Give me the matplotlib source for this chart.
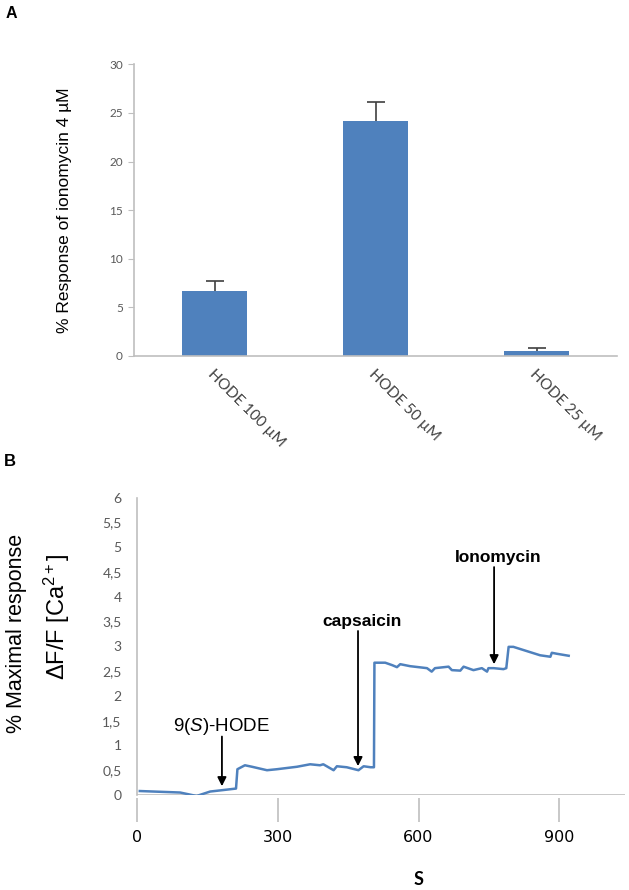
import matplotlib
matplotlib.use("Agg")
import matplotlib.pyplot as plt
import numpy as np

plt.rcParams['mathtext.fontset'] = 'custom'
plt.rcParams['mathtext.rm'] = 'Liberation Sans'
plt.rcParams['mathtext.it'] = 'Liberation Sans:italic'
plt.rcParams['mathtext.bf'] = 'Liberation Sans:bold'

# panel A data
conditions = ["HODE 100 µM", "HODE 50 µM", "HODE 25 µM"]
response = [6.7, 24.2, 0.5]
response_err = [1.05, 1.9, 0.35]

# panel B trace (s, dF/F)
time_s = [6, 92, 127, 156, 184, 211, 214, 230, 245, 277, 298, 341, 369, 390,
          397, 419, 426, 447, 472, 483, 498, 505, 506, 529, 544, 554, 561,
          582, 618, 628, 635, 664, 671, 689, 696, 717, 735, 746, 749, 760,
          781, 787, 792, 802, 859, 881, 884, 895, 920]
dff = [0.08, 0.05, -0.02, 0.07, 0.10, 0.13, 0.52, 0.60, 0.57, 0.50, 0.52,
       0.57, 0.62, 0.60, 0.62, 0.50, 0.58, 0.56, 0.50, 0.58, 0.56, 0.56,
       2.67, 2.67, 2.62, 2.58, 2.64, 2.60, 2.56, 2.49, 2.56, 2.59, 2.52,
       2.51, 2.59, 2.52, 2.56, 2.49, 2.56, 2.56, 2.54, 2.56, 2.99, 2.99,
       2.82, 2.79, 2.87, 2.85, 2.81]

# stimulus additions
event_labels = [r"9($\mathit{S}$)-HODE", "capsaicin", "Ionomycin"]
event_times = [181, 471, 761]
event_text_y = [1.38, 3.51, 4.80]
event_bold = [False, True, True]

BLUE = "#4F81BD"
GRID = "#BFBFBF"
TICKC = "#595959"

fig = plt.figure(figsize=(6.29, 8.9), dpi=100)

# ---- A ----
ax1 = fig.add_axes([134/629, 1-356/890, (617-134)/629, (356-64.3)/890])
x = np.arange(len(conditions))
ax1.bar(x, response, width=0.4, color=BLUE, zorder=2)
eb = ax1.errorbar(x, response, yerr=[np.zeros(len(x)), response_err], fmt='none',
                  ecolor="#404040", elinewidth=1.2, capsize=6.5, capthick=1.2,
                  zorder=3)
# only the upper cap, like the original
for cap in eb[1]:
    if np.allclose(cap.get_ydata(), response):
        cap.set_visible(False)
ax1.set_xlim(-0.5, 2.5)
ax1.set_ylim(0, 30)
ax1.set_yticks(range(0, 31, 5))
ax1.set_xticks(x)
ax1.set_xticklabels(conditions, rotation=-45, ha='left', va='top',
                    rotation_mode='anchor', family='Lato', fontsize=11,
                    color="#404040")
ax1.tick_params(axis='x', length=0, pad=8)
ax1.tick_params(axis='y', length=4, color=GRID, labelcolor=TICKC, pad=4,
                labelsize=8.5)
for lab in ax1.get_yticklabels():
    lab.set_family('Lato')
for s in ['top', 'right']:
    ax1.spines[s].set_visible(False)
for s in ['left', 'bottom']:
    ax1.spines[s].set_color(GRID)
    ax1.spines[s].set_linewidth(1.2)

fig.text(64/629, 1-210/890, "% Response of ionomycin 4 µM", rotation=90,
         ha='center', va='center', family='Liberation Sans', fontsize=12.5)
fig.text(6/629, 1-13/890, "A", ha='left', va='center', family='Liberation Sans',
         fontsize=11.5, fontweight='bold')

# ---- B ----
ax2 = fig.add_axes([137/629, 1-795/890, (625-137)/629, (795-497.7)/890])
ax2.plot(time_s, dff, color=BLUE, lw=1.8, zorder=3)
ax2.axhline(0, color=GRID, lw=1.2, zorder=1)
ax2.set_xlim(0, 1040)
ax2.set_ylim(0, 6)
yt = np.arange(0, 6.01, 0.5)
ax2.set_yticks(yt)
ax2.set_yticklabels([("%g" % v).replace('.', ',') for v in yt], family='Lato')
ax2.tick_params(axis='y', length=0, pad=11, labelcolor=TICKC, labelsize=10)
ax2.set_xticks([0, 300, 600, 900])
ax2.tick_params(axis='x', length=17, width=1.2, color=GRID, pad=6,
                labelsize=11.5)
for lab in ax2.get_xticklabels():
    lab.set_family('Lato')
    lab.set_fontweight('bold')
ax2.spines['bottom'].set_position(('outward', 2))
for s in ['top', 'right', 'bottom']:
    ax2.spines[s].set_visible(False)
ax2.spines['left'].set_color(GRID)
ax2.spines['left'].set_linewidth(1.2)

for lab, t, ty, bold in zip(event_labels, event_times, event_text_y, event_bold):
    tip = np.interp(t, time_s, dff) + 0.08
    ax2.annotate('', xy=(t, tip), xytext=(t, ty - 0.2),
                 arrowprops=dict(arrowstyle='-|>', color='black', lw=1.3,
                                 mutation_scale=13, shrinkA=0, shrinkB=0))
    ax2.text(t + (8 if bold else 0), ty, lab, ha='center', va='center',
             family='Liberation Sans', fontsize=12.5 if bold else 13.5,
             fontweight='bold' if bold else 'normal')

ax2.text(600, -0.285, "S", transform=ax2.get_xaxis_transform(), ha='center',
         va='center', family='Lato', fontsize=13, fontweight='bold')

fig.text(17/629, 1-633/890, "% Maximal response", rotation=90, ha='center',
         va='center', family='Liberation Sans', fontsize=15.5)
fig.text(57/629, 1-617/890, "ΔF/F [Ca$^{2+}$]", rotation=90, ha='center',
         va='center', family='Liberation Sans', fontsize=17)
fig.text(4/629, 1-462/890, "B", ha='left', va='center', family='Liberation Sans',
         fontsize=12, fontweight='bold')

fig.savefig("out.png", dpi=100)
